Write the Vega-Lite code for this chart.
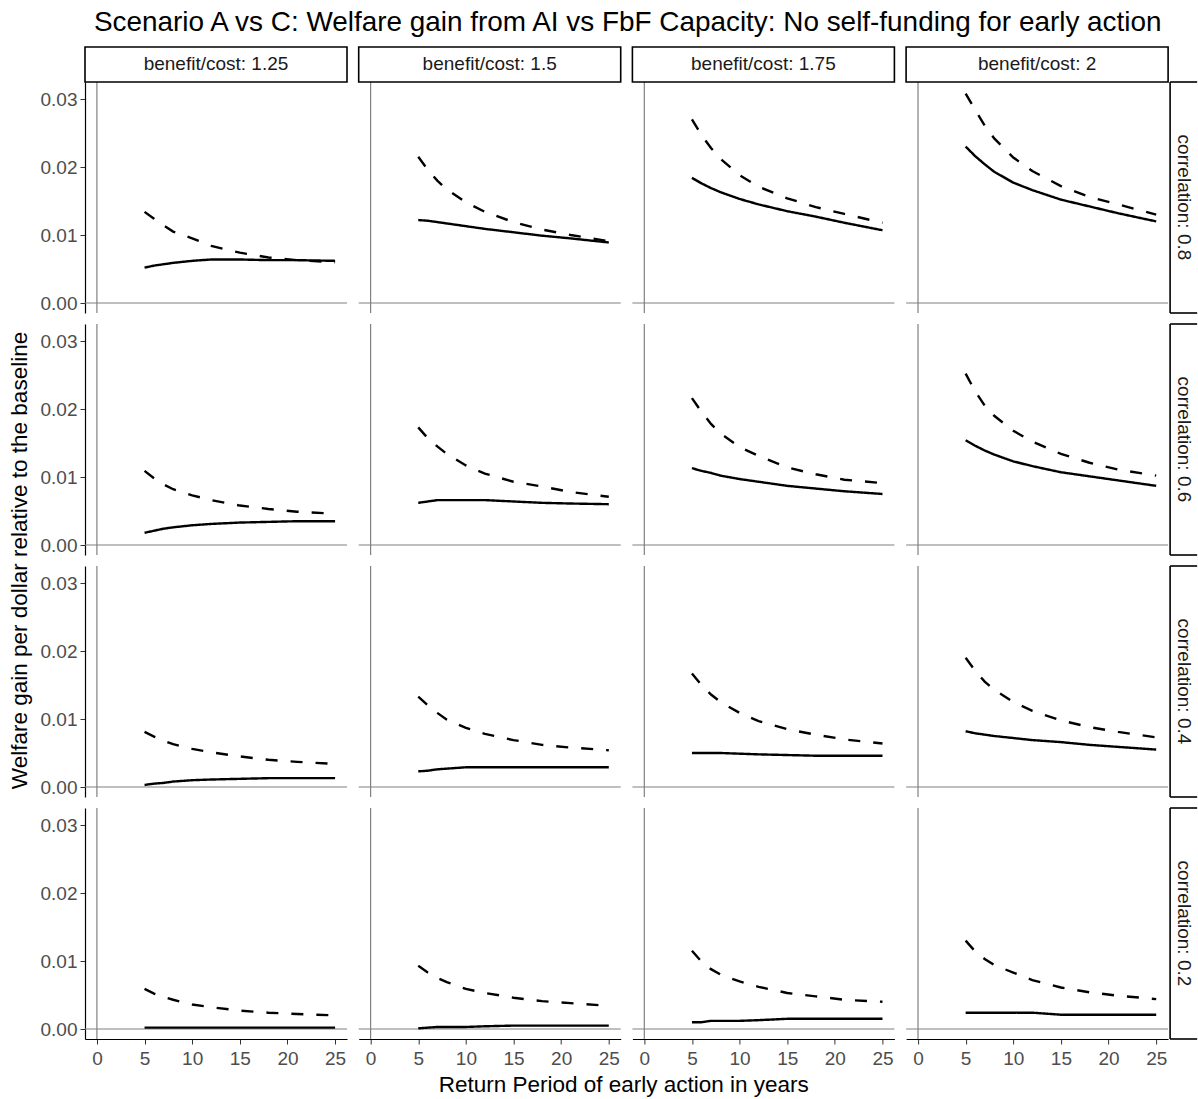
{
"$schema":"https://vega.github.io/schema/vega-lite/v6.json",
"padding":{"left":9,"top":9,"right":0,"bottom":0},
"title":{"text":"Scenario A vs C: Welfare gain from AI vs FbF Capacity: No self-funding for early action","fontSize":27.9,"fontWeight":"normal","font":"Liberation Sans","color":"#000000","anchor":"start","frame":"group","dx":9,"offset":9},
"data":{"values":[
{"b":1.25,"c":0.8,"s":"FbF","x":5,"y":0.0134},{"b":1.25,"c":0.8,"s":"FbF","x":6,"y":0.0124},{"b":1.25,"c":0.8,"s":"FbF","x":7,"y":0.0114},{"b":1.25,"c":0.8,"s":"FbF","x":8,"y":0.0105},{"b":1.25,"c":0.8,"s":"FbF","x":10,"y":0.0095},{"b":1.25,"c":0.8,"s":"FbF","x":12,"y":0.0084},{"b":1.25,"c":0.8,"s":"FbF","x":15,"y":0.0074},{"b":1.25,"c":0.8,"s":"FbF","x":18,"y":0.0067},{"b":1.25,"c":0.8,"s":"FbF","x":21,"y":0.0063},{"b":1.25,"c":0.8,"s":"FbF","x":25,"y":0.0060},
{"b":1.25,"c":0.8,"s":"AI","x":5,"y":0.0052},{"b":1.25,"c":0.8,"s":"AI","x":6,"y":0.0055},{"b":1.25,"c":0.8,"s":"AI","x":7,"y":0.0057},{"b":1.25,"c":0.8,"s":"AI","x":8,"y":0.0059},{"b":1.25,"c":0.8,"s":"AI","x":10,"y":0.0062},{"b":1.25,"c":0.8,"s":"AI","x":12,"y":0.0064},{"b":1.25,"c":0.8,"s":"AI","x":15,"y":0.0064},{"b":1.25,"c":0.8,"s":"AI","x":18,"y":0.0063},{"b":1.25,"c":0.8,"s":"AI","x":21,"y":0.0063},{"b":1.25,"c":0.8,"s":"AI","x":25,"y":0.0062},
{"b":1.5,"c":0.8,"s":"FbF","x":5,"y":0.0215},{"b":1.5,"c":0.8,"s":"FbF","x":6,"y":0.0196},{"b":1.5,"c":0.8,"s":"FbF","x":7,"y":0.0180},{"b":1.5,"c":0.8,"s":"FbF","x":8,"y":0.0167},{"b":1.5,"c":0.8,"s":"FbF","x":10,"y":0.0148},{"b":1.5,"c":0.8,"s":"FbF","x":12,"y":0.0134},{"b":1.5,"c":0.8,"s":"FbF","x":15,"y":0.0119},{"b":1.5,"c":0.8,"s":"FbF","x":18,"y":0.0108},{"b":1.5,"c":0.8,"s":"FbF","x":21,"y":0.0100},{"b":1.5,"c":0.8,"s":"FbF","x":25,"y":0.0091},
{"b":1.5,"c":0.8,"s":"AI","x":5,"y":0.0122},{"b":1.5,"c":0.8,"s":"AI","x":6,"y":0.0121},{"b":1.5,"c":0.8,"s":"AI","x":7,"y":0.0119},{"b":1.5,"c":0.8,"s":"AI","x":8,"y":0.0117},{"b":1.5,"c":0.8,"s":"AI","x":10,"y":0.0113},{"b":1.5,"c":0.8,"s":"AI","x":12,"y":0.0109},{"b":1.5,"c":0.8,"s":"AI","x":15,"y":0.0104},{"b":1.5,"c":0.8,"s":"AI","x":18,"y":0.0099},{"b":1.5,"c":0.8,"s":"AI","x":21,"y":0.0095},{"b":1.5,"c":0.8,"s":"AI","x":25,"y":0.0089},
{"b":1.75,"c":0.8,"s":"FbF","x":5,"y":0.0270},{"b":1.75,"c":0.8,"s":"FbF","x":6,"y":0.0247},{"b":1.75,"c":0.8,"s":"FbF","x":7,"y":0.0228},{"b":1.75,"c":0.8,"s":"FbF","x":8,"y":0.0212},{"b":1.75,"c":0.8,"s":"FbF","x":10,"y":0.0188},{"b":1.75,"c":0.8,"s":"FbF","x":12,"y":0.0171},{"b":1.75,"c":0.8,"s":"FbF","x":15,"y":0.0154},{"b":1.75,"c":0.8,"s":"FbF","x":18,"y":0.0141},{"b":1.75,"c":0.8,"s":"FbF","x":21,"y":0.0131},{"b":1.75,"c":0.8,"s":"FbF","x":25,"y":0.0118},
{"b":1.75,"c":0.8,"s":"AI","x":5,"y":0.0184},{"b":1.75,"c":0.8,"s":"AI","x":6,"y":0.0176},{"b":1.75,"c":0.8,"s":"AI","x":7,"y":0.0169},{"b":1.75,"c":0.8,"s":"AI","x":8,"y":0.0163},{"b":1.75,"c":0.8,"s":"AI","x":10,"y":0.0153},{"b":1.75,"c":0.8,"s":"AI","x":12,"y":0.0145},{"b":1.75,"c":0.8,"s":"AI","x":15,"y":0.0135},{"b":1.75,"c":0.8,"s":"AI","x":18,"y":0.0127},{"b":1.75,"c":0.8,"s":"AI","x":21,"y":0.0118},{"b":1.75,"c":0.8,"s":"AI","x":25,"y":0.0107},
{"b":2,"c":0.8,"s":"FbF","x":5,"y":0.0308},{"b":2,"c":0.8,"s":"FbF","x":6,"y":0.0284},{"b":2,"c":0.8,"s":"FbF","x":7,"y":0.0261},{"b":2,"c":0.8,"s":"FbF","x":8,"y":0.0242},{"b":2,"c":0.8,"s":"FbF","x":10,"y":0.0214},{"b":2,"c":0.8,"s":"FbF","x":12,"y":0.0194},{"b":2,"c":0.8,"s":"FbF","x":15,"y":0.0172},{"b":2,"c":0.8,"s":"FbF","x":18,"y":0.0156},{"b":2,"c":0.8,"s":"FbF","x":21,"y":0.0145},{"b":2,"c":0.8,"s":"FbF","x":25,"y":0.0130},
{"b":2,"c":0.8,"s":"AI","x":5,"y":0.0230},{"b":2,"c":0.8,"s":"AI","x":6,"y":0.0216},{"b":2,"c":0.8,"s":"AI","x":7,"y":0.0204},{"b":2,"c":0.8,"s":"AI","x":8,"y":0.0193},{"b":2,"c":0.8,"s":"AI","x":10,"y":0.0177},{"b":2,"c":0.8,"s":"AI","x":12,"y":0.0166},{"b":2,"c":0.8,"s":"AI","x":15,"y":0.0152},{"b":2,"c":0.8,"s":"AI","x":18,"y":0.0142},{"b":2,"c":0.8,"s":"AI","x":21,"y":0.0132},{"b":2,"c":0.8,"s":"AI","x":25,"y":0.0120},
{"b":1.25,"c":0.6,"s":"FbF","x":5,"y":0.0109},{"b":1.25,"c":0.6,"s":"FbF","x":6,"y":0.0098},{"b":1.25,"c":0.6,"s":"FbF","x":7,"y":0.0089},{"b":1.25,"c":0.6,"s":"FbF","x":8,"y":0.0082},{"b":1.25,"c":0.6,"s":"FbF","x":10,"y":0.0073},{"b":1.25,"c":0.6,"s":"FbF","x":12,"y":0.0066},{"b":1.25,"c":0.6,"s":"FbF","x":15,"y":0.0058},{"b":1.25,"c":0.6,"s":"FbF","x":18,"y":0.0053},{"b":1.25,"c":0.6,"s":"FbF","x":21,"y":0.0049},{"b":1.25,"c":0.6,"s":"FbF","x":25,"y":0.0046},
{"b":1.25,"c":0.6,"s":"AI","x":5,"y":0.0018},{"b":1.25,"c":0.6,"s":"AI","x":6,"y":0.0021},{"b":1.25,"c":0.6,"s":"AI","x":7,"y":0.0024},{"b":1.25,"c":0.6,"s":"AI","x":8,"y":0.0026},{"b":1.25,"c":0.6,"s":"AI","x":10,"y":0.0029},{"b":1.25,"c":0.6,"s":"AI","x":12,"y":0.0031},{"b":1.25,"c":0.6,"s":"AI","x":15,"y":0.0033},{"b":1.25,"c":0.6,"s":"AI","x":18,"y":0.0034},{"b":1.25,"c":0.6,"s":"AI","x":21,"y":0.0035},{"b":1.25,"c":0.6,"s":"AI","x":25,"y":0.0035},
{"b":1.5,"c":0.6,"s":"FbF","x":5,"y":0.0173},{"b":1.5,"c":0.6,"s":"FbF","x":6,"y":0.0157},{"b":1.5,"c":0.6,"s":"FbF","x":7,"y":0.0145},{"b":1.5,"c":0.6,"s":"FbF","x":8,"y":0.0134},{"b":1.5,"c":0.6,"s":"FbF","x":10,"y":0.0117},{"b":1.5,"c":0.6,"s":"FbF","x":12,"y":0.0105},{"b":1.5,"c":0.6,"s":"FbF","x":15,"y":0.0093},{"b":1.5,"c":0.6,"s":"FbF","x":18,"y":0.0086},{"b":1.5,"c":0.6,"s":"FbF","x":21,"y":0.0078},{"b":1.5,"c":0.6,"s":"FbF","x":25,"y":0.0071},
{"b":1.5,"c":0.6,"s":"AI","x":5,"y":0.0062},{"b":1.5,"c":0.6,"s":"AI","x":6,"y":0.0064},{"b":1.5,"c":0.6,"s":"AI","x":7,"y":0.0066},{"b":1.5,"c":0.6,"s":"AI","x":8,"y":0.0066},{"b":1.5,"c":0.6,"s":"AI","x":10,"y":0.0066},{"b":1.5,"c":0.6,"s":"AI","x":12,"y":0.0066},{"b":1.5,"c":0.6,"s":"AI","x":15,"y":0.0064},{"b":1.5,"c":0.6,"s":"AI","x":18,"y":0.0062},{"b":1.5,"c":0.6,"s":"AI","x":21,"y":0.0061},{"b":1.5,"c":0.6,"s":"AI","x":25,"y":0.0060},
{"b":1.75,"c":0.6,"s":"FbF","x":5,"y":0.0216},{"b":1.75,"c":0.6,"s":"FbF","x":6,"y":0.0196},{"b":1.75,"c":0.6,"s":"FbF","x":7,"y":0.0178},{"b":1.75,"c":0.6,"s":"FbF","x":8,"y":0.0164},{"b":1.75,"c":0.6,"s":"FbF","x":10,"y":0.0144},{"b":1.75,"c":0.6,"s":"FbF","x":12,"y":0.0131},{"b":1.75,"c":0.6,"s":"FbF","x":15,"y":0.0114},{"b":1.75,"c":0.6,"s":"FbF","x":18,"y":0.0104},{"b":1.75,"c":0.6,"s":"FbF","x":21,"y":0.0096},{"b":1.75,"c":0.6,"s":"FbF","x":25,"y":0.0091},
{"b":1.75,"c":0.6,"s":"AI","x":5,"y":0.0113},{"b":1.75,"c":0.6,"s":"AI","x":6,"y":0.0109},{"b":1.75,"c":0.6,"s":"AI","x":7,"y":0.0106},{"b":1.75,"c":0.6,"s":"AI","x":8,"y":0.0102},{"b":1.75,"c":0.6,"s":"AI","x":10,"y":0.0097},{"b":1.75,"c":0.6,"s":"AI","x":12,"y":0.0093},{"b":1.75,"c":0.6,"s":"AI","x":15,"y":0.0087},{"b":1.75,"c":0.6,"s":"AI","x":18,"y":0.0083},{"b":1.75,"c":0.6,"s":"AI","x":21,"y":0.0079},{"b":1.75,"c":0.6,"s":"AI","x":25,"y":0.0075},
{"b":2,"c":0.6,"s":"FbF","x":5,"y":0.0252},{"b":2,"c":0.6,"s":"FbF","x":6,"y":0.0226},{"b":2,"c":0.6,"s":"FbF","x":7,"y":0.0205},{"b":2,"c":0.6,"s":"FbF","x":8,"y":0.0190},{"b":2,"c":0.6,"s":"FbF","x":10,"y":0.0168},{"b":2,"c":0.6,"s":"FbF","x":12,"y":0.0152},{"b":2,"c":0.6,"s":"FbF","x":15,"y":0.0134},{"b":2,"c":0.6,"s":"FbF","x":18,"y":0.0121},{"b":2,"c":0.6,"s":"FbF","x":21,"y":0.0111},{"b":2,"c":0.6,"s":"FbF","x":25,"y":0.0102},
{"b":2,"c":0.6,"s":"AI","x":5,"y":0.0154},{"b":2,"c":0.6,"s":"AI","x":6,"y":0.0146},{"b":2,"c":0.6,"s":"AI","x":7,"y":0.0139},{"b":2,"c":0.6,"s":"AI","x":8,"y":0.0133},{"b":2,"c":0.6,"s":"AI","x":10,"y":0.0123},{"b":2,"c":0.6,"s":"AI","x":12,"y":0.0116},{"b":2,"c":0.6,"s":"AI","x":15,"y":0.0107},{"b":2,"c":0.6,"s":"AI","x":18,"y":0.0101},{"b":2,"c":0.6,"s":"AI","x":21,"y":0.0095},{"b":2,"c":0.6,"s":"AI","x":25,"y":0.0087},
{"b":1.25,"c":0.4,"s":"FbF","x":5,"y":0.0081},{"b":1.25,"c":0.4,"s":"FbF","x":6,"y":0.0074},{"b":1.25,"c":0.4,"s":"FbF","x":7,"y":0.0068},{"b":1.25,"c":0.4,"s":"FbF","x":8,"y":0.0063},{"b":1.25,"c":0.4,"s":"FbF","x":10,"y":0.0056},{"b":1.25,"c":0.4,"s":"FbF","x":12,"y":0.0051},{"b":1.25,"c":0.4,"s":"FbF","x":15,"y":0.0045},{"b":1.25,"c":0.4,"s":"FbF","x":18,"y":0.0040},{"b":1.25,"c":0.4,"s":"FbF","x":21,"y":0.0037},{"b":1.25,"c":0.4,"s":"FbF","x":25,"y":0.0034},
{"b":1.25,"c":0.4,"s":"AI","x":5,"y":0.0003},{"b":1.25,"c":0.4,"s":"AI","x":6,"y":0.0005},{"b":1.25,"c":0.4,"s":"AI","x":7,"y":0.0006},{"b":1.25,"c":0.4,"s":"AI","x":8,"y":0.0008},{"b":1.25,"c":0.4,"s":"AI","x":10,"y":0.0010},{"b":1.25,"c":0.4,"s":"AI","x":12,"y":0.0011},{"b":1.25,"c":0.4,"s":"AI","x":15,"y":0.0012},{"b":1.25,"c":0.4,"s":"AI","x":18,"y":0.0013},{"b":1.25,"c":0.4,"s":"AI","x":21,"y":0.0013},{"b":1.25,"c":0.4,"s":"AI","x":25,"y":0.0013},
{"b":1.5,"c":0.4,"s":"FbF","x":5,"y":0.0133},{"b":1.5,"c":0.4,"s":"FbF","x":6,"y":0.0120},{"b":1.5,"c":0.4,"s":"FbF","x":7,"y":0.0109},{"b":1.5,"c":0.4,"s":"FbF","x":8,"y":0.0099},{"b":1.5,"c":0.4,"s":"FbF","x":10,"y":0.0087},{"b":1.5,"c":0.4,"s":"FbF","x":12,"y":0.0078},{"b":1.5,"c":0.4,"s":"FbF","x":15,"y":0.0069},{"b":1.5,"c":0.4,"s":"FbF","x":18,"y":0.0062},{"b":1.5,"c":0.4,"s":"FbF","x":21,"y":0.0058},{"b":1.5,"c":0.4,"s":"FbF","x":25,"y":0.0054},
{"b":1.5,"c":0.4,"s":"AI","x":5,"y":0.0023},{"b":1.5,"c":0.4,"s":"AI","x":6,"y":0.0024},{"b":1.5,"c":0.4,"s":"AI","x":7,"y":0.0026},{"b":1.5,"c":0.4,"s":"AI","x":8,"y":0.0027},{"b":1.5,"c":0.4,"s":"AI","x":10,"y":0.0029},{"b":1.5,"c":0.4,"s":"AI","x":12,"y":0.0029},{"b":1.5,"c":0.4,"s":"AI","x":15,"y":0.0029},{"b":1.5,"c":0.4,"s":"AI","x":18,"y":0.0029},{"b":1.5,"c":0.4,"s":"AI","x":21,"y":0.0029},{"b":1.5,"c":0.4,"s":"AI","x":25,"y":0.0029},
{"b":1.75,"c":0.4,"s":"FbF","x":5,"y":0.0167},{"b":1.75,"c":0.4,"s":"FbF","x":6,"y":0.0150},{"b":1.75,"c":0.4,"s":"FbF","x":7,"y":0.0136},{"b":1.75,"c":0.4,"s":"FbF","x":8,"y":0.0125},{"b":1.75,"c":0.4,"s":"FbF","x":10,"y":0.0109},{"b":1.75,"c":0.4,"s":"FbF","x":12,"y":0.0097},{"b":1.75,"c":0.4,"s":"FbF","x":15,"y":0.0085},{"b":1.75,"c":0.4,"s":"FbF","x":18,"y":0.0077},{"b":1.75,"c":0.4,"s":"FbF","x":21,"y":0.0070},{"b":1.75,"c":0.4,"s":"FbF","x":25,"y":0.0064},
{"b":1.75,"c":0.4,"s":"AI","x":5,"y":0.0050},{"b":1.75,"c":0.4,"s":"AI","x":6,"y":0.0050},{"b":1.75,"c":0.4,"s":"AI","x":7,"y":0.0050},{"b":1.75,"c":0.4,"s":"AI","x":8,"y":0.0050},{"b":1.75,"c":0.4,"s":"AI","x":10,"y":0.0049},{"b":1.75,"c":0.4,"s":"AI","x":12,"y":0.0048},{"b":1.75,"c":0.4,"s":"AI","x":15,"y":0.0047},{"b":1.75,"c":0.4,"s":"AI","x":18,"y":0.0046},{"b":1.75,"c":0.4,"s":"AI","x":21,"y":0.0046},{"b":1.75,"c":0.4,"s":"AI","x":25,"y":0.0046},
{"b":2,"c":0.4,"s":"FbF","x":5,"y":0.0190},{"b":2,"c":0.4,"s":"FbF","x":6,"y":0.0171},{"b":2,"c":0.4,"s":"FbF","x":7,"y":0.0155},{"b":2,"c":0.4,"s":"FbF","x":8,"y":0.0143},{"b":2,"c":0.4,"s":"FbF","x":10,"y":0.0125},{"b":2,"c":0.4,"s":"FbF","x":12,"y":0.0112},{"b":2,"c":0.4,"s":"FbF","x":15,"y":0.0098},{"b":2,"c":0.4,"s":"FbF","x":18,"y":0.0088},{"b":2,"c":0.4,"s":"FbF","x":21,"y":0.0081},{"b":2,"c":0.4,"s":"FbF","x":25,"y":0.0073},
{"b":2,"c":0.4,"s":"AI","x":5,"y":0.0082},{"b":2,"c":0.4,"s":"AI","x":6,"y":0.0079},{"b":2,"c":0.4,"s":"AI","x":7,"y":0.0077},{"b":2,"c":0.4,"s":"AI","x":8,"y":0.0075},{"b":2,"c":0.4,"s":"AI","x":10,"y":0.0072},{"b":2,"c":0.4,"s":"AI","x":12,"y":0.0069},{"b":2,"c":0.4,"s":"AI","x":15,"y":0.0066},{"b":2,"c":0.4,"s":"AI","x":18,"y":0.0062},{"b":2,"c":0.4,"s":"AI","x":21,"y":0.0059},{"b":2,"c":0.4,"s":"AI","x":25,"y":0.0055},
{"b":1.25,"c":0.2,"s":"FbF","x":5,"y":0.0059},{"b":1.25,"c":0.2,"s":"FbF","x":6,"y":0.0052},{"b":1.25,"c":0.2,"s":"FbF","x":7,"y":0.0047},{"b":1.25,"c":0.2,"s":"FbF","x":8,"y":0.0043},{"b":1.25,"c":0.2,"s":"FbF","x":10,"y":0.0036},{"b":1.25,"c":0.2,"s":"FbF","x":12,"y":0.0032},{"b":1.25,"c":0.2,"s":"FbF","x":15,"y":0.0027},{"b":1.25,"c":0.2,"s":"FbF","x":18,"y":0.0024},{"b":1.25,"c":0.2,"s":"FbF","x":21,"y":0.0022},{"b":1.25,"c":0.2,"s":"FbF","x":25,"y":0.0020},
{"b":1.25,"c":0.2,"s":"AI","x":5,"y":0.0002},{"b":1.25,"c":0.2,"s":"AI","x":6,"y":0.0002},{"b":1.25,"c":0.2,"s":"AI","x":7,"y":0.0002},{"b":1.25,"c":0.2,"s":"AI","x":8,"y":0.0002},{"b":1.25,"c":0.2,"s":"AI","x":10,"y":0.0002},{"b":1.25,"c":0.2,"s":"AI","x":12,"y":0.0002},{"b":1.25,"c":0.2,"s":"AI","x":15,"y":0.0002},{"b":1.25,"c":0.2,"s":"AI","x":18,"y":0.0002},{"b":1.25,"c":0.2,"s":"AI","x":21,"y":0.0002},{"b":1.25,"c":0.2,"s":"AI","x":25,"y":0.0002},
{"b":1.5,"c":0.2,"s":"FbF","x":5,"y":0.0093},{"b":1.5,"c":0.2,"s":"FbF","x":6,"y":0.0083},{"b":1.5,"c":0.2,"s":"FbF","x":7,"y":0.0075},{"b":1.5,"c":0.2,"s":"FbF","x":8,"y":0.0069},{"b":1.5,"c":0.2,"s":"FbF","x":10,"y":0.0059},{"b":1.5,"c":0.2,"s":"FbF","x":12,"y":0.0053},{"b":1.5,"c":0.2,"s":"FbF","x":15,"y":0.0046},{"b":1.5,"c":0.2,"s":"FbF","x":18,"y":0.0041},{"b":1.5,"c":0.2,"s":"FbF","x":21,"y":0.0038},{"b":1.5,"c":0.2,"s":"FbF","x":25,"y":0.0034},
{"b":1.5,"c":0.2,"s":"AI","x":5,"y":0.0001},{"b":1.5,"c":0.2,"s":"AI","x":6,"y":0.0002},{"b":1.5,"c":0.2,"s":"AI","x":7,"y":0.0003},{"b":1.5,"c":0.2,"s":"AI","x":8,"y":0.0003},{"b":1.5,"c":0.2,"s":"AI","x":10,"y":0.0003},{"b":1.5,"c":0.2,"s":"AI","x":12,"y":0.0004},{"b":1.5,"c":0.2,"s":"AI","x":15,"y":0.0005},{"b":1.5,"c":0.2,"s":"AI","x":18,"y":0.0005},{"b":1.5,"c":0.2,"s":"AI","x":21,"y":0.0005},{"b":1.5,"c":0.2,"s":"AI","x":25,"y":0.0005},
{"b":1.75,"c":0.2,"s":"FbF","x":5,"y":0.0115},{"b":1.75,"c":0.2,"s":"FbF","x":6,"y":0.0099},{"b":1.75,"c":0.2,"s":"FbF","x":7,"y":0.0088},{"b":1.75,"c":0.2,"s":"FbF","x":8,"y":0.0080},{"b":1.75,"c":0.2,"s":"FbF","x":10,"y":0.0070},{"b":1.75,"c":0.2,"s":"FbF","x":12,"y":0.0062},{"b":1.75,"c":0.2,"s":"FbF","x":15,"y":0.0053},{"b":1.75,"c":0.2,"s":"FbF","x":18,"y":0.0048},{"b":1.75,"c":0.2,"s":"FbF","x":21,"y":0.0043},{"b":1.75,"c":0.2,"s":"FbF","x":25,"y":0.0040},
{"b":1.75,"c":0.2,"s":"AI","x":5,"y":0.0010},{"b":1.75,"c":0.2,"s":"AI","x":6,"y":0.0010},{"b":1.75,"c":0.2,"s":"AI","x":7,"y":0.0012},{"b":1.75,"c":0.2,"s":"AI","x":8,"y":0.0012},{"b":1.75,"c":0.2,"s":"AI","x":10,"y":0.0012},{"b":1.75,"c":0.2,"s":"AI","x":12,"y":0.0013},{"b":1.75,"c":0.2,"s":"AI","x":15,"y":0.0015},{"b":1.75,"c":0.2,"s":"AI","x":18,"y":0.0015},{"b":1.75,"c":0.2,"s":"AI","x":21,"y":0.0015},{"b":1.75,"c":0.2,"s":"AI","x":25,"y":0.0015},
{"b":2,"c":0.2,"s":"FbF","x":5,"y":0.0130},{"b":2,"c":0.2,"s":"FbF","x":6,"y":0.0114},{"b":2,"c":0.2,"s":"FbF","x":7,"y":0.0103},{"b":2,"c":0.2,"s":"FbF","x":8,"y":0.0094},{"b":2,"c":0.2,"s":"FbF","x":10,"y":0.0083},{"b":2,"c":0.2,"s":"FbF","x":12,"y":0.0072},{"b":2,"c":0.2,"s":"FbF","x":15,"y":0.0061},{"b":2,"c":0.2,"s":"FbF","x":18,"y":0.0054},{"b":2,"c":0.2,"s":"FbF","x":21,"y":0.0049},{"b":2,"c":0.2,"s":"FbF","x":25,"y":0.0044},
{"b":2,"c":0.2,"s":"AI","x":5,"y":0.0024},{"b":2,"c":0.2,"s":"AI","x":6,"y":0.0024},{"b":2,"c":0.2,"s":"AI","x":7,"y":0.0024},{"b":2,"c":0.2,"s":"AI","x":8,"y":0.0024},{"b":2,"c":0.2,"s":"AI","x":10,"y":0.0024},{"b":2,"c":0.2,"s":"AI","x":12,"y":0.0024},{"b":2,"c":0.2,"s":"AI","x":15,"y":0.0021},{"b":2,"c":0.2,"s":"AI","x":18,"y":0.0021},{"b":2,"c":0.2,"s":"AI","x":21,"y":0.0021},{"b":2,"c":0.2,"s":"AI","x":25,"y":0.0021}
]},
"facet":{
 "column":{"field":"b","type":"ordinal","title":null,"header":{"labels":false}},
 "row":{"field":"c","type":"ordinal","sort":"descending","title":null,"header":{"labels":false}}
},
"spacing":{"row":11,"column":11.7},
"bounds":"flush",
"spec":{
 "width":262,"height":231,
 "layer":[
  {"transform":[{"aggregate":[{"op":"count","as":"n"}],"groupby":["b","c"]}],
   "mark":{"type":"rule","color":"#808080","strokeWidth":1.2},
   "encoding":{"x":{"datum":0,"type":"quantitative"}}},
  {"transform":[{"aggregate":[{"op":"count","as":"n"}],"groupby":["b","c"]}],
   "mark":{"type":"rule","color":"#808080","strokeWidth":1.2},
   "encoding":{"y":{"datum":0,"type":"quantitative"}}},
  {"mark":{"type":"line","color":"#000000","strokeWidth":2.4},
   "encoding":{
    "x":{"field":"x","type":"quantitative","scale":{"domain":[-1.25,26.25],"nice":false,"zero":false},
      "axis":{"title":null,"values":[0,5,10,15,20,25],"grid":false,"labelFlush":false,"domainColor":"#000000","domainWidth":1.2,"tickColor":"#333333","tickSize":5,"labelFontSize":19,"labelColor":"#4D4D4D","labelPadding":5,"labelFont":"Liberation Sans"}},
    "y":{"field":"y","type":"quantitative","scale":{"domain":[-0.00147,0.0325],"nice":false,"zero":false},
      "axis":{"title":null,"values":[0,0.01,0.02,0.03],"format":".2f","grid":false,"labelFlush":false,"domainColor":"#000000","domainWidth":1.2,"tickColor":"#333333","tickSize":5,"labelFontSize":19,"labelColor":"#4D4D4D","labelPadding":3,"labelFont":"Liberation Sans"}},
    "strokeDash":{"field":"s","type":"nominal","scale":{"domain":["AI","FbF"],"range":[[1,0],[12,13]]},"legend":null}
   }},
  {"transform":[{"filter":"datum.c == 0.6 && datum.b == 1.25"},{"aggregate":[{"op":"count","as":"n"}],"groupby":["b","c"]}],
   "mark":{"type":"text","font":"Liberation Sans","fontSize":22.5,"color":"#000000","align":"center","baseline":"middle","angle":270},
   "encoding":{"x":{"datum":-8.07,"type":"quantitative"},"y":{"datum":-0.00228,"type":"quantitative"},"text":{"value":"Welfare gain per dollar relative to the baseline"}}},
  {"transform":[{"filter":"datum.c == 0.2 && datum.b == 1.5"},{"aggregate":[{"op":"count","as":"n"}],"groupby":["b","c"]}],
   "mark":{"type":"text","font":"Liberation Sans","fontSize":22.5,"color":"#000000","align":"center","baseline":"middle"},
   "encoding":{"x":{"datum":26.57,"type":"quantitative"},"y":{"datum":-0.00823,"type":"quantitative"},"text":{"value":"Return Period of early action in years"}}},
  {"transform":[{"filter":"datum.c == 0.8"},{"aggregate":[{"op":"count","as":"n"}],"groupby":["b","c"]}],
   "mark":{"type":"rect","filled":false,"stroke":"#000000","strokeWidth":1.6},
   "encoding":{"x":{"datum":-1.25,"type":"quantitative"},"x2":{"datum":26.25},"y":{"datum":0.0325,"type":"quantitative"},"y2":{"datum":0.03765}}},
  {"transform":[{"filter":"datum.c == 0.8"},{"aggregate":[{"op":"count","as":"n"}],"groupby":["b","c"]}],
   "mark":{"type":"text","font":"Liberation Sans","fontSize":19,"color":"#1A1A1A","align":"center","baseline":"middle"},
   "encoding":{"x":{"datum":12.5,"type":"quantitative"},"y":{"datum":0.03508,"type":"quantitative"},
    "text":{"condition":[{"test":"datum.b == 1.25","value":"benefit/cost: 1.25"},{"test":"datum.b == 1.5","value":"benefit/cost: 1.5"},{"test":"datum.b == 1.75","value":"benefit/cost: 1.75"}],"value":"benefit/cost: 2"}}},
  {"transform":[{"filter":"datum.b == 2"},{"aggregate":[{"op":"count","as":"n"}],"groupby":["b","c"]}],
   "mark":{"type":"text","font":"Liberation Sans","fontSize":19,"color":"#1A1A1A","align":"center","baseline":"middle","angle":90},
   "encoding":{"x":{"datum":27.93,"type":"quantitative"},"y":{"datum":0.01552,"type":"quantitative"},
    "text":{"condition":[{"test":"datum.c == 0.8","value":"correlation: 0.8"},{"test":"datum.c == 0.6","value":"correlation: 0.6"},{"test":"datum.c == 0.4","value":"correlation: 0.4"}],"value":"correlation: 0.2"}}},
  {"transform":[{"filter":"datum.b == 2"},{"aggregate":[{"op":"count","as":"n"}],"groupby":["b","c"]}],
   "mark":{"type":"rule","color":"#000000","strokeWidth":1.6},
   "encoding":{"x":{"datum":26.46,"type":"quantitative"},"y":{"datum":-0.00147,"type":"quantitative"},"y2":{"datum":0.0325}}},
  {"transform":[{"filter":"datum.b == 2"},{"aggregate":[{"op":"count","as":"n"}],"groupby":["b","c"]}],
   "mark":{"type":"rule","color":"#000000","strokeWidth":1.6},
   "encoding":{"x":{"datum":26.46,"type":"quantitative"},"x2":{"datum":29.3},"y":{"datum":0.0325,"type":"quantitative"}}},
  {"transform":[{"filter":"datum.b == 2"},{"aggregate":[{"op":"count","as":"n"}],"groupby":["b","c"]}],
   "mark":{"type":"rule","color":"#000000","strokeWidth":1.6},
   "encoding":{"x":{"datum":26.46,"type":"quantitative"},"x2":{"datum":29.3},"y":{"datum":-0.00147,"type":"quantitative"}}}
 ]
},
"config":{"view":{"stroke":null},"font":"Liberation Sans"}
}
